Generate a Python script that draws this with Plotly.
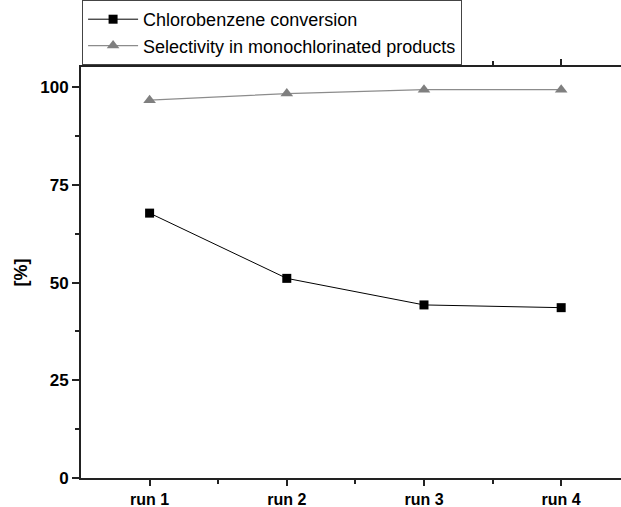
import plotly.graph_objects as go

runs = ['run 1', 'run 2', 'run 3', 'run 4']
conversion = [67.8, 51.1, 44.3, 43.6]
selectivity = [96.7, 98.4, 99.4, 99.4]

x_pos = list(range(len(runs)))

fig = go.Figure()
fig.add_trace(go.Scatter(
    x=x_pos, y=conversion, name='Chlorobenzene conversion',
    mode='lines+markers',
    line=dict(color='black', width=1),
    marker=dict(symbol='square', size=9, color='black'),
))
fig.add_trace(go.Scatter(
    x=x_pos, y=selectivity, name='Selectivity in monochlorinated products',
    mode='lines+markers',
    line=dict(color='#8c8c8c', width=1.2),
    marker=dict(symbol='triangle-up', size=11, color='#7f7f7f'),
))

axis_col = '#222222'
fig.update_layout(
    width=621, height=507,
    margin=dict(l=81, r=0, t=67, b=29),
    paper_bgcolor='white', plot_bgcolor='white',
    font=dict(family='Liberation Sans, Arial, sans-serif', color='black'),
    showlegend=True,
    legend=dict(
        x=0.002, y=1.006, xanchor='left', yanchor='bottom',
        bordercolor='#444444', borderwidth=1,
        font=dict(size=18), bgcolor='white',
        tracegroupgap=0, itemwidth=50,
    ),
)
fig.update_xaxes(
    range=[-0.5, 3.436], automargin=False,
    tickmode='array', tickvals=x_pos, ticktext=runs,
    ticks='outside', ticklen=6, tickwidth=1.5, tickcolor=axis_col,
    minor=dict(tickmode='array', tickvals=[0.5, 1.5, 2.5], ticks='outside',
               ticklen=4, tickwidth=1.5, tickcolor=axis_col),
    showline=True, linecolor=axis_col, linewidth=2, mirror='ticks',
    showgrid=False, zeroline=False,
    tickfont=dict(size=16, weight='bold'),
)
fig.update_yaxes(
    range=[0, 105.2], automargin=False,
    tickvals=[0, 25, 50, 75, 100],
    ticks='outside', ticklen=7, tickwidth=1.5, tickcolor=axis_col,
    minor=dict(tickmode='array', tickvals=[12.5, 37.5, 62.5, 87.5], ticks='outside',
               ticklen=4, tickwidth=1.5, tickcolor=axis_col),
    showline=True, linecolor=axis_col, linewidth=2,
    showgrid=False, zeroline=False,
    tickfont=dict(size=17, weight='bold'),
    title=dict(text='[%]', font=dict(size=18, weight='bold'), standoff=8),
)

# the page body has a default 8px margin; drop it so the figure fills the window
fig.write_html('out.html', config={'displayModeBar': False},
               post_script="document.body.style.margin='0';")
